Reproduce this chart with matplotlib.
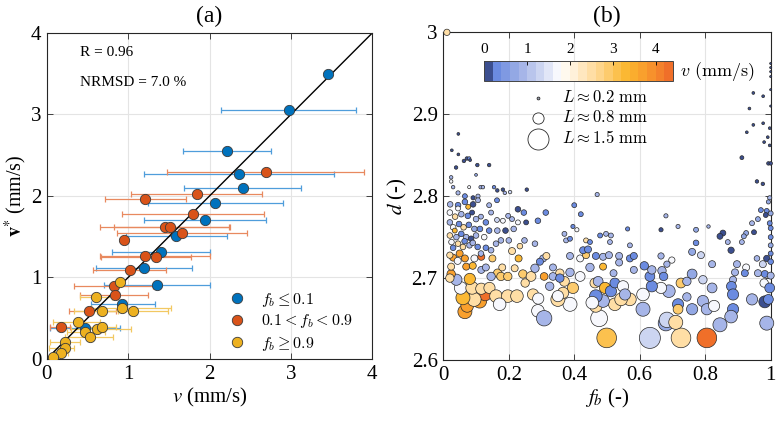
import numpy as np
import matplotlib
matplotlib.use('Agg')
import matplotlib.pyplot as plt
from matplotlib.colors import ListedColormap, Normalize
from matplotlib.lines import Line2D

plt.rcParams['font.family'] = ['Liberation Serif', 'DejaVu Serif']
plt.rcParams['mathtext.fontset'] = 'stix'

# ---------------- Panel (a) data ----------------
blue_v     = [3.46, 2.98, 2.21, 2.36, 2.41, 2.07, 1.95, 1.59, 1.41, 1.20, 1.35, 0.93, 0.47]
blue_vstar = [3.50, 3.06, 2.55, 2.27, 2.10, 1.92, 1.71, 1.51, 1.31, 1.12, 0.91, 0.68, 0.38]
blue_lo    = [np.nan, 2.14, 1.67, 1.19, 1.69, 1.24, 1.19, 0.97, 0.80, 0.61, 0.71, 0.54, 0.04]
blue_hi    = [np.nan, 3.80, 2.76, 3.53, 3.12, 2.90, 2.70, 2.21, 2.01, 1.78, 2.01, 1.33, 0.90]

orange_v     = [2.69, 1.85, 1.21, 1.80, 1.45, 1.52, 1.66, 0.95, 1.21, 1.34, 1.02, 0.83, 0.84, 0.52, 0.17]
orange_vstar = [2.30, 2.02, 1.96, 1.78, 1.62, 1.62, 1.54, 1.46, 1.26, 1.25, 1.09, 0.90, 0.79, 0.59, 0.39]
orange_lo    = [1.48, 1.04, 0.72, 0.93, 0.65, 0.83, 0.86, np.nan, 0.65, 0.67, 0.57, 0.33, 0.41, 0.28, 0.04]
orange_hi    = [3.90, 2.65, 1.71, 2.67, 2.24, 2.25, 2.46, np.nan, 2.01, 1.77, 1.47, 1.31, 1.25, 0.85, 0.29]

yellow_v     = [0.90, 0.61, 0.68, 0.93, 1.06, 0.38, 0.47, 0.53, 0.62, 0.68, 0.22, 0.22, 0.18, 0.08]
yellow_vstar = [0.95, 0.76, 0.59, 0.62, 0.59, 0.45, 0.33, 0.27, 0.37, 0.39, 0.21, 0.14, 0.07, 0.02]
yellow_lo    = [np.nan, 0.41, 0.33, 0.55, 0.62, 0.08, 0.25, 0.22, 0.30, 0.45, 0.04, 0.03, 0.10, np.nan]
yellow_hi    = [np.nan, 0.80, 0.88, 1.53, 1.49, 0.65, 0.72, 0.82, 1.04, 0.85, 0.41, 0.34, 0.26, np.nan]

legend_labels_a = [r'$f_b \leq 0.1$', r'$0.1 < f_b < 0.9$', r'$f_b \geq 0.9$']
stats_text = ['R = 0.96', 'NRMSD = 7.0 %']

# ---------------- Panel (b) data ----------------
# group: upper-left small particles
fb_1 = [0.011, 0.046, 0.026, 0.046, 0.039, 0.063, 0.072, 0.079, 0.082, 0.104,
        0.14, 0.1, 0.024, 0.024, 0.03, 0.079, 0.114, 0.121, 0.155, 0.165,
        0.182, 0.188, 0.204, 0.255, 0.045, 0.066, 0.106, 0.091, 0.14, 0.164,
        0.228, 0.246, 0.253, 0.289, 0.313, 0.198, 0.21, 0.164, 0.182, 0.228,
        0.146, 0.115, 0.47, 0.4, 0.42, 0.68]
d_1 = [3.0, 2.876, 2.856, 2.851, 2.835, 2.843, 2.846, 2.846, 2.844, 2.838,
       2.838, 2.826, 2.823, 2.818, 2.811, 2.811, 2.811, 2.811, 2.811, 2.807,
       2.808, 2.804, 2.805, 2.808, 2.804, 2.8, 2.8, 2.798, 2.789, 2.795,
       2.784, 2.78, 2.768, 2.77, 2.78, 2.776, 2.772, 2.771, 2.77, 2.768,
       2.78, 2.775, 2.802, 2.789, 2.778, 2.776]
v_1 = [2.5, 0.1, 0.1, 0.1, 0.1, 0.1, 0.1, 0.35, 0.1, 0.1,
       0.1, 0.6, 0.95, 1.65, 0.95, 1.65, 0.95, 0.95, 0.35, 0.1,
       0.1, 0.95, 1.3, 0.1, 0.95, 0.35, 0.95, 0.1, 0.95, 0.35,
       0.1, 0.35, 0.1, 0.35, 0.35, 0.95, 0.95, 1.3, 1.65, 1.65,
       0.95, 0.95, 0.95, 0.35, 0.35, 0.95]
L_1 = [0.45, 0.2, 0.2, 0.2, 0.25, 0.25, 0.25, 0.25, 0.2, 0.25,
       0.25, 0.2, 0.25, 0.25, 0.25, 0.22, 0.25, 0.25, 0.25, 0.25,
       0.25, 0.25, 0.25, 0.25, 0.3, 0.35, 0.3, 0.3, 0.35, 0.35,
       0.4, 0.4, 0.35, 0.4, 0.4, 0.35, 0.35, 0.35, 0.35, 0.35,
       0.35, 0.35, 0.3, 0.35, 0.35, 0.3]

# group: right side (f_b near 1)
fb_2 = [0.947, 0.977, 0.935, 0.947, 0.977, 0.927, 0.991, 0.98, 0.997, 0.997,
        0.912, 0.993, 1.0, 0.958, 0.976, 1.0, 1.0, 1.0, 1.0, 1.0,
        1.0, 0.997, 0.993, 0.97, 0.988, 0.985, 1.0, 0.961, 0.943, 0.997,
        1.0, 0.949, 0.925, 0.918, 0.912, 0.854, 0.845, 0.869, 0.772, 0.81,
        0.717, 0.772, 0.76, 0.787, 0.879, 0.958, 0.988, 1.0, 1.0, 1.0, 1.0]
d_2 = [2.926, 2.922, 2.907, 2.887, 2.889, 2.878, 2.872, 2.866, 2.883, 2.862,
       2.847, 2.84, 2.84, 2.818, 2.815, 2.962, 2.957, 2.952, 2.946, 2.93,
       2.91, 2.798, 2.793, 2.783, 2.782, 2.777, 2.779, 2.772, 2.767, 2.767,
       2.761, 2.756, 2.755, 2.751, 2.744, 2.755, 2.751, 2.744, 2.759, 2.763,
       2.763, 2.743, 2.732, 2.728, 2.734, 2.724, 2.724, 2.72, 2.75, 2.74, 2.73]
v_2 = [0.1, 0.1, 0.1, 0.1, 0.1, 0.1, 0.1, 0.1, 0.1, 0.1,
       0.1, 0.1, 0.1, 0.1, 0.1, 0.1, 0.1, 0.1, 0.1, 0.1,
       0.1, 0.95, 0.6, 0.35, 0.35, 0.1, 0.6, 0.6, 0.95, 0.35,
       0.35, 0.1, 0.6, 0.6, 0.95, 0.1, 0.1, 0.95, 0.6, 0.95,
       0.95, 0.35, 0.6, 1.3, 0.1, 0.95, 0.1, 0.35, 0.35, 0.6, 0.35]
L_2 = [0.2, 0.2, 0.2, 0.2, 0.2, 0.2, 0.2, 0.2, 0.2, 0.2,
       0.28, 0.25, 0.25, 0.25, 0.25, 0.15, 0.15, 0.15, 0.15, 0.15,
       0.15, 0.3, 0.3, 0.35, 0.35, 0.35, 0.35, 0.35, 0.35, 0.35,
       0.35, 0.35, 0.35, 0.35, 0.35, 0.42, 0.42, 0.35, 0.35, 0.25,
       0.3, 0.4, 0.5, 0.5, 0.45, 0.4, 0.45, 0.4, 0.35, 0.35, 0.35]

# group: lower right
fb_3 = [0.821, 0.897, 0.925, 0.976, 0.891, 0.921, 0.961, 0.982, 1.0, 0.76,
        0.793, 0.726, 0.744, 0.885, 0.88, 0.821, 0.98, 0.997, 0.885, 0.943,
        0.982, 0.993, 0.717, 0.744, 0.717, 0.76, 0.793, 0.805, 0.827, 0.885,
        0.879, 0.845, 0.988, 0.726, 0.805, 0.631, 0.499]
d_3 = [2.717, 2.717, 2.713, 2.717, 2.707, 2.706, 2.706, 2.705, 2.703, 2.705,
       2.698, 2.694, 2.696, 2.698, 2.69, 2.688, 2.694, 2.688, 2.68, 2.674,
       2.671, 2.674, 2.668, 2.677, 2.662, 2.662, 2.672, 2.662, 2.666, 2.662,
       2.653, 2.643, 2.645, 2.627, 2.627, 2.627, 2.627]
v_3 = [0.95, 0.95, 1.65, 1.3, 0.95, 0.35, 0.95, 0.35, 0.95, 0.6,
       1.3, 2.9, 0.95, 0.95, 0.35, 0.95, 1.65, 0.35, 0.35, 0.95,
       0.1, 0.35, 0.35, 0.95, 2.9, 0.6, 0.95, 0.95, 1.65, 0.35,
       0.95, 0.95, 0.95, 2.5, 4.3, 1.25, 3.1]
L_3 = [0.5, 0.5, 0.5, 0.5, 0.5, 0.5, 0.5, 0.5, 0.5, 0.7,
       0.6, 0.7, 0.6, 0.5, 0.7, 0.7, 0.6, 0.7, 0.8, 0.8,
       0.85, 0.7, 0.8, 0.6, 0.7, 0.8, 0.8, 0.8, 0.8, 0.8,
       0.9, 1.0, 1.0, 1.4, 1.4, 1.5, 1.4]

# group: middle
fb_4 = [0.476, 0.68, 0.683, 0.71, 0.61, 0.387, 0.35, 0.466, 0.524, 0.488,
        0.57, 0.466, 0.543, 0.455, 0.61, 0.689, 0.665, 0.637, 0.631, 0.637,
        0.614, 0.668, 0.673, 0.396, 0.37, 0.463, 0.473, 0.494, 0.512, 0.524,
        0.549, 0.555, 0.488, 0.448, 0.418, 0.387, 0.356, 0.387, 0.418, 0.436,
        0.427, 0.442, 0.466, 0.488, 0.506, 0.537, 0.537, 0.57, 0.582, 0.582,
        0.52, 0.375, 0.387, 0.436, 0.448, 0.479, 0.497, 0.512, 0.509, 0.57,
        0.37, 0.396, 0.408, 0.665, 0.665, 0.698, 0.683, 0.563]
d_4 = [2.651, 2.645, 2.649, 2.646, 2.662, 2.668, 2.674, 2.666, 2.668, 2.672,
       2.674, 2.678, 2.674, 2.67, 2.68, 2.684, 2.688, 2.69, 2.702, 2.71,
       2.715, 2.709, 2.702, 2.688, 2.696, 2.694, 2.696, 2.688, 2.684, 2.694,
       2.69, 2.68, 2.714, 2.713, 2.702, 2.707, 2.706, 2.727, 2.724, 2.728,
       2.734, 2.735, 2.727, 2.726, 2.728, 2.727, 2.719, 2.724, 2.727, 2.71,
       2.706, 2.746, 2.748, 2.746, 2.744, 2.752, 2.754, 2.752, 2.744, 2.74,
       2.754, 2.763, 2.759, 2.759, 2.727, 2.722, 2.717, 2.76]
v_4 = [1.65, 0.6, 1.3, 2.4, 0.95, 1.65, 2.4, 2.4, 2.4, 0.95,
       2.4, 0.35, 2.4, 1.65, 1.65, 0.95, 1.65, 0.35, 0.35, 0.95,
       0.35, 0.95, 0.35, 2.9, 2.4, 2.4, 0.95, 3.3, 0.35, 0.35,
       1.65, 0.95, 3.3, 0.95, 1.65, 0.95, 2.4, 0.95, 1.65, 2.9,
       0.35, 0.35, 0.35, 0.95, 0.95, 0.95, 0.95, 0.35, 0.35, 0.95,
       0.95, 0.95, 0.35, 2.4, 0.35, 0.35, 0.95, 0.95, 0.95, 0.95,
       0.95, 0.35, 1.65, 0.1, 0.95, 1.65, 0.95, 0.35]
L_4 = [1.2, 1.1, 1.1, 1.0, 1.0, 1.0, 1.0, 0.9, 0.9, 0.9,
       0.9, 0.9, 0.9, 0.9, 0.9, 0.9, 0.8, 0.8, 0.7, 0.6,
       0.6, 0.6, 0.6, 0.8, 0.7, 0.7, 0.7, 0.8, 0.8, 0.7,
       0.8, 0.8, 0.5, 0.6, 0.7, 0.6, 0.6, 0.5, 0.5, 0.5,
       0.5, 0.5, 0.5, 0.5, 0.5, 0.5, 0.5, 0.5, 0.5, 0.5,
       0.5, 0.35, 0.35, 0.35, 0.35, 0.35, 0.35, 0.35, 0.35, 0.35,
       0.35, 0.3, 0.3, 0.3, 0.45, 0.45, 0.45, 0.3]

# group: lower left
fb_5 = [0.066, 0.073, 0.111, 0.128, 0.094, 0.06, 0.053, 0.088, 0.116, 0.141,
        0.161, 0.197, 0.225, 0.172, 0.04, 0.081, 0.024, 0.02, 0.03, 0.05,
        0.024, 0.044, 0.066, 0.07, 0.095, 0.116, 0.09, 0.116, 0.13, 0.15,
        0.166, 0.146, 0.18, 0.176, 0.197, 0.218, 0.23, 0.21, 0.243, 0.268,
        0.28, 0.25, 0.274, 0.29, 0.289, 0.308, 0.308, 0.335, 0.325, 0.305,
        0.295, 0.315, 0.335, 0.356, 0.366, 0.35, 0.248, 0.28, 0.234, 0.176,
        0.2, 0.161, 0.146, 0.13, 0.115, 0.03, 0.06, 0.08]
d_5 = [2.659, 2.666, 2.672, 2.68, 2.674, 2.676, 2.688, 2.688, 2.687, 2.688,
       2.678, 2.678, 2.678, 2.668, 2.698, 2.699, 2.705, 2.7, 2.725, 2.73,
       2.714, 2.721, 2.724, 2.714, 2.724, 2.726, 2.715, 2.71, 2.713, 2.724,
       2.706, 2.702, 2.713, 2.702, 2.702, 2.712, 2.724, 2.733, 2.705, 2.702,
       2.712, 2.694, 2.68, 2.675, 2.66, 2.651, 2.702, 2.702, 2.69, 2.724,
       2.72, 2.727, 2.713, 2.7, 2.682, 2.678, 2.746, 2.742, 2.739, 2.746,
       2.746, 2.742, 2.734, 2.737, 2.73, 2.737, 2.738, 2.74]
v_5 = [3.8, 3.8, 3.8, 4.3, 2.4, 3.3, 1.65, 2.4, 2.4, 2.4,
       2.4, 2.4, 2.4, 1.65, 0.95, 3.3, 3.8, 2.4, 3.8, 3.8,
       2.4, 1.65, 3.8, 3.8, 1.65, 4.3, 3.3, 0.95, 0.95, 2.9,
       2.9, 0.95, 2.4, 2.9, 2.9, 2.4, 3.3, 2.4, 2.9, 2.4,
       0.95, 2.4, 2.4, 1.65, 1.65, 0.95, 3.8, 0.95, 0.95, 0.95,
       0.35, 2.4, 0.95, 0.35, 2.4, 1.65, 0.95, 0.95, 2.4, 0.95,
       0.95, 0.95, 0.95, 0.35, 0.95, 0.35, 2.4, 0.95]
L_5 = [1.0, 0.9, 1.0, 0.9, 1.0, 1.0, 0.9, 0.9, 0.8, 0.8,
       0.9, 0.9, 0.9, 0.9, 0.8, 0.8, 0.6, 0.6, 0.5, 0.5,
       0.5, 0.5, 0.5, 0.5, 0.5, 0.5, 0.5, 0.5, 0.5, 0.5,
       0.6, 0.6, 0.5, 0.6, 0.6, 0.5, 0.5, 0.5, 0.6, 0.7,
       0.6, 0.6, 0.8, 0.8, 0.9, 1.1, 0.55, 0.55, 0.6, 0.5,
       0.5, 0.5, 0.5, 0.6, 0.8, 0.8, 0.4, 0.4, 0.4, 0.4,
       0.4, 0.4, 0.4, 0.4, 0.4, 0.4, 0.4, 0.4]

# group: dense upper-left cluster
fb_6 = [0.021, 0.045, 0.066, 0.091, 0.106, 0.02, 0.036, 0.055, 0.075, 0.088,
        0.1, 0.13, 0.02, 0.03, 0.048, 0.062, 0.078, 0.095, 0.112, 0.02,
        0.04, 0.055, 0.07, 0.085, 0.1, 0.125, 0.14, 0.025, 0.045, 0.065,
        0.09, 0.105, 0.035, 0.076, 0.045, 0.02, 0.165, 0.19, 0.215]
d_6 = [2.79, 2.789, 2.793, 2.79, 2.795, 2.78, 2.775, 2.778, 2.776, 2.78,
       2.772, 2.768, 2.768, 2.762, 2.766, 2.762, 2.765, 2.76, 2.76, 2.752,
       2.75, 2.754, 2.75, 2.748, 2.752, 2.75, 2.758, 2.744, 2.742, 2.745,
       2.743, 2.738, 2.758, 2.787, 2.785, 2.728, 2.758, 2.758, 2.76]
v_6 = [0.95, 0.35, 0.35, 0.1, 0.95, 1.65, 2.4, 0.95, 0.35, 0.1,
       0.95, 0.35, 0.95, 1.65, 0.35, 2.4, 0.35, 0.6, 0.35, 2.4,
       0.95, 0.35, 0.95, 0.1, 0.95, 1.65, 0.35, 1.65, 2.4, 0.35,
       0.95, 0.35, 3.3, 3.3, 1.65, 2.4, 0.95, 0.1, 0.95]
L_6 = [0.4, 0.4, 0.4, 0.4, 0.35, 0.4, 0.4, 0.4, 0.4, 0.35,
       0.4, 0.4, 0.4, 0.4, 0.4, 0.4, 0.4, 0.4, 0.4, 0.4,
       0.4, 0.4, 0.4, 0.4, 0.4, 0.4, 0.4, 0.4, 0.4, 0.4,
       0.4, 0.4, 0.35, 0.35, 0.35, 0.45, 0.4, 0.4, 0.4]

size_legend_L = [0.2, 0.8, 1.5]
size_legend_labels = [r'$L \approx 0.2\ \mathrm{mm}$', r'$L \approx 0.8\ \mathrm{mm}$',
                      r'$L \approx 1.5\ \mathrm{mm}$']
cbar_ticks = [0, 1, 2, 3, 4]

cmap_colors = ['#3c4f8f', '#6b8be0', '#7f99e2', '#93a8e4', '#a6b5e8', '#b9c5ec',
               '#ccd5f1', '#e1e6f7', '#f7f8fd', '#fff9ee', '#fff1da', '#ffe7bf',
               '#ffdea5', '#fed58b', '#fdcb6d', '#fcc14e', '#fbb833', '#faad2e',
               '#f9a02d', '#f7912c', '#f4812b', '#f06f29']


def collect(*groups):
    out = []
    for g in groups:
        n = min(len(a) for a in g)
        out.append([np.asarray(a[:n], float) for a in g])
    return [np.concatenate([o[i] for o in out]) for i in range(4)]


fb, dd, vv, LL = collect((fb_1, d_1, v_1, L_1), (fb_2, d_2, v_2, L_2),
                         (fb_3, d_3, v_3, L_3), (fb_4, d_4, v_4, L_4),
                         (fb_5, d_5, v_5, L_5), (fb_6, d_6, v_6, L_6))

# ---------------- Figure ----------------
fig = plt.figure(figsize=(7.81, 4.26), dpi=100)
axa = fig.add_axes([0.0598, 0.1573, 0.4169, 0.7653])
axb = fig.add_axes([0.5676, 0.1549, 0.4192, 0.7692])

for ax in (axa, axb):
    ax.tick_params(direction='in', top=True, right=True, labelsize=15,
                   length=4, width=0.6, color='#262626', pad=4)
    ax.grid(True, color='#e4e4e4', lw=0.8)
    ax.set_axisbelow(True)
    for s in ax.spines.values():
        s.set_linewidth(0.8)
        s.set_color('#262626')

# Panel (a)
axa.plot([0, 4], [0, 4], color='k', lw=1.0, zorder=2)
groups_a = [
    (blue_v, blue_vstar, blue_lo, blue_hi, '#0072BD', '#4f9ddb'),
    (orange_v, orange_vstar, orange_lo, orange_hi, '#D95319', '#e8895f'),
    (yellow_v, yellow_vstar, yellow_lo, yellow_hi, '#EDB120', '#f2c862'),
]
for v, vs, lo, hi, c, ec in groups_a:
    v = np.asarray(v); vs = np.asarray(vs); lo = np.asarray(lo); hi = np.asarray(hi)
    m = np.isfinite(lo) & np.isfinite(hi)
    axa.errorbar(v[m], vs[m], xerr=[v[m] - lo[m], hi[m] - v[m]], fmt='none',
                 ecolor=ec, elinewidth=0.9, capsize=2.5, capthick=0.9, zorder=1.5)
for v, vs, lo, hi, c, ec in groups_a:
    axa.scatter(v, vs, s=55, c=c, edgecolors='#3a3a3a', linewidths=0.6, zorder=3)

axa.set_xlim(0, 4)
axa.set_ylim(0, 4)
axa.set_xticks([0, 1, 2, 3, 4])
axa.set_yticks([0, 1, 2, 3, 4])
axa.set_xlabel(r'$v$ (mm/s)', fontsize=15, labelpad=2)
axa.set_ylabel(r'$\mathbf{v}^{*}$ (mm/s)', fontsize=14.5, labelpad=1)
axa.text(0.102, 0.941, stats_text[0], transform=axa.transAxes, fontsize=11, va='center')
axa.text(0.102, 0.847, stats_text[1], transform=axa.transAxes, fontsize=11, va='center')

handles = [Line2D([], [], marker='o', ls='none', markerfacecolor=g[4],
                  markeredgecolor='#3a3a3a', markeredgewidth=0.6, markersize=7.5)
           for g in groups_a]
leg = axa.legend(handles, legend_labels_a, loc='lower left', bbox_to_anchor=(0.5, -0.015),
                 frameon=False, handletextpad=0.5, labelspacing=0.22, fontsize=11.5,
                 borderaxespad=0.3)
for t in leg.get_texts():
    t.set_math_fontfamily('cm')

fig.text(209.5 / 781, 0.962, '(a)', fontsize=17, ha='center', va='center')
fig.text(607 / 781, 0.962, '(b)', fontsize=17, ha='center', va='center')

# Panel (b)
cmap = ListedColormap(cmap_colors)
norm = Normalize(0, 4.4)
sc = axb.scatter(fb, dd, s=(10.1 * LL) ** 2, c=vv, cmap=cmap, norm=norm,
                 edgecolors='#2a2a2a', linewidths=0.5, clip_on=False, zorder=3)
axb.set_xlim(0, 1)
axb.set_ylim(2.6, 3.0)
axb.set_xticks([0, 0.2, 0.4, 0.6, 0.8, 1.0])
axb.set_xticklabels(['0', '0.2', '0.4', '0.6', '0.8', '1'])
axb.set_yticks([2.6, 2.7, 2.8, 2.9, 3.0])
axb.set_yticklabels(['2.6', '2.7', '2.8', '2.9', '3'])
axb.set_xlabel(r'$f_b$ (-)', fontsize=15, labelpad=2)
axb.set_ylabel(r'$d$ (-)', fontsize=15, labelpad=2)

cax = fig.add_axes([0.6201, 0.8099, 0.2412, 0.0477])
cb = fig.colorbar(sc, cax=cax, orientation='horizontal')
cax.xaxis.set_ticks_position('top')
cb.set_ticks(cbar_ticks)
cax.tick_params(labelsize=11, direction='in', length=3, pad=3, width=0.6)
cb.outline.set_edgecolor('#444444')
cb.outline.set_linewidth(0.7)
fig.text(0.8707, 0.833, r'$v\ \mathrm{(mm/s)}$', fontsize=13, va='center',
         math_fontfamily='cm')

leg_y = [0.7986, 0.7376, 0.6753]
for Lv, yy, lab in zip(size_legend_L, leg_y, size_legend_labels):
    fc = '#9aa0b0' if Lv < 0.5 else 'white'
    axb.scatter([0.29], [yy], s=(10.1 * Lv) ** 2, transform=axb.transAxes,
                facecolor=fc, edgecolors='#2a2a2a', linewidths=0.6, clip_on=False, zorder=4)
    axb.text(0.3616, yy, lab, transform=axb.transAxes, fontsize=12, va='center',
             math_fontfamily='cm')

fig.savefig('out.png', dpi=100)
